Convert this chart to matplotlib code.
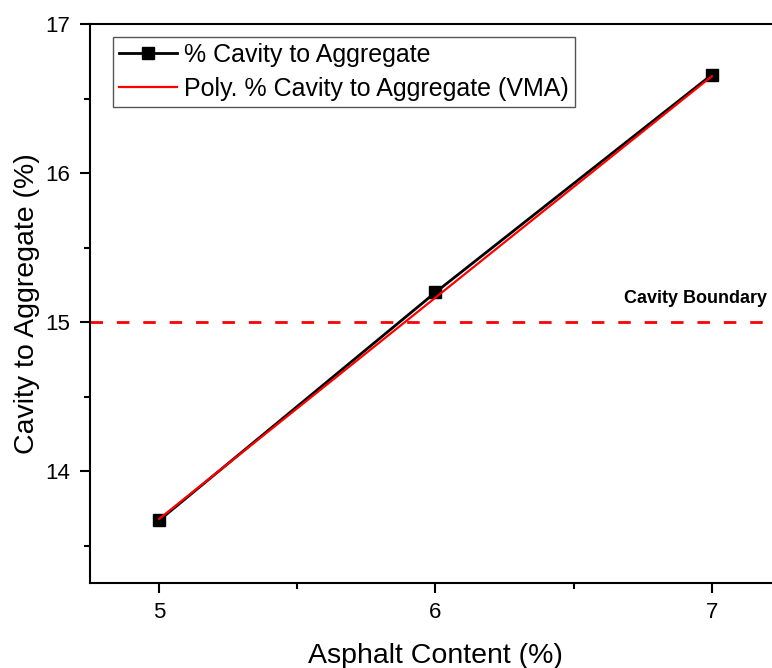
import matplotlib
matplotlib.use("Agg")
import matplotlib.pyplot as plt
from matplotlib.ticker import MultipleLocator

plt.rcParams['font.family'] = ['Liberation Sans', 'DejaVu Sans']

# data
asphalt = [5, 6, 7]
cavity = [13.67, 15.2, 16.66]
fit_x = [5, 7]
fit_y = [13.68, 16.65]
boundary = 15

fig = plt.figure(figsize=(7.72, 6.68), dpi=100)
ax = fig.add_axes([0.1166, 0.1272, 0.895, 0.8368])

ax.plot(asphalt, cavity, color='black', lw=2, marker='s', markersize=8.5,
        label='% Cavity to Aggregate')
ax.plot(fit_x, fit_y, color='red', lw=1.6, label='Poly. % Cavity to Aggregate (VMA)')
ax.axhline(boundary, color='red', lw=2, dashes=(4.5, 5))
ax.text(7.2, boundary + 0.1, 'Cavity Boundary', ha='right', va='bottom',
        fontsize=13, fontweight='bold')

ax.set_xlim(4.75, 7.25)
ax.set_ylim(13.25, 17)
ax.xaxis.set_major_locator(MultipleLocator(1))
ax.xaxis.set_minor_locator(MultipleLocator(0.5))
ax.yaxis.set_major_locator(MultipleLocator(1))
ax.yaxis.set_minor_locator(MultipleLocator(0.5))
ax.tick_params(which='major', direction='out', length=7, width=1.5, labelsize=16, pad=7)
ax.tick_params(which='minor', direction='out', length=4, width=1.5)
for s in ['left', 'bottom', 'top']:
    ax.spines[s].set_linewidth(1.5)
ax.spines['right'].set_visible(False)

ax.set_xlabel('Asphalt Content (%)', fontsize=20.5, labelpad=14)
ax.set_ylabel('Cavity to Aggregate (%)', fontsize=20.5, labelpad=4)

leg = ax.legend(loc='upper left', bbox_to_anchor=(0.033, 0.977), borderaxespad=0,
                fontsize=18, fancybox=False, framealpha=1, edgecolor='#555555',
                handlelength=2.3, handletextpad=0.3, borderpad=0.25, labelspacing=0.4)
leg.get_frame().set_linewidth(1)

fig.savefig('out.png', dpi=100)
